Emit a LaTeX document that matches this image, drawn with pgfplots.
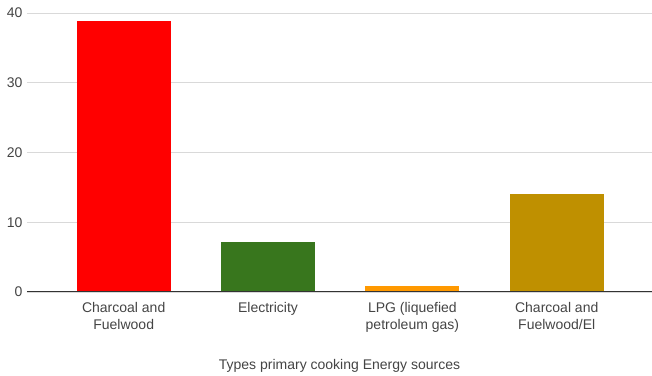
\documentclass[border=0pt]{standalone}
\usepackage{pgfplots}
\pgfplotsset{compat=1.18}
\usepackage{fontspec}
\setmainfont{Liberation Sans}
\definecolor{txt}{HTML}{444444}
\definecolor{gridc}{HTML}{D9D9D9}
\definecolor{base}{HTML}{333333}
\definecolor{cRed}{HTML}{FF0000}
\definecolor{cGreen}{HTML}{38761D}
\definecolor{cOrange}{HTML}{FF9900}
\definecolor{cGold}{HTML}{BF9000}
\begin{document}
\begin{tikzpicture}[font=\fontsize{14pt}{16.5pt}\selectfont]
\begin{axis}[
  scale only axis,
  width=625pt, height=279pt,
  xmin=-0.67, xmax=3.66,
  ymin=0, ymax=40,
  ytick={0,10,20,30,40},
  xtick={0,1,2,3},
  xticklabels={Charcoal and\\Fuelwood, Electricity, LPG (liquefied\\petroleum gas), Charcoal and\\Fuelwood/El},
  xticklabel style={align=center, text=txt, yshift=-7pt},
  yticklabel style={text=txt, xshift=-1pt},
  /pgf/number format/assume math mode=true,
  axis line style={draw=none},
  major tick length=0pt,
  xmajorgrids=false,
  ymajorgrids=true,
  grid style={draw=gridc, line width=0.8pt},
  bar width=94pt,
  xlabel={Types primary cooking Energy sources},
  xlabel style={text=txt, yshift=-20pt},
  clip=false,
]
\addplot[ybar, fill=cRed, draw=none] coordinates {(0,38.8)};
\addplot[ybar, fill=cGreen, draw=none] coordinates {(1,7.2)};
\addplot[ybar, fill=cOrange, draw=none] coordinates {(2,0.9)};
\addplot[ybar, fill=cGold, draw=none] coordinates {(3,14)};
\draw[base, line width=1pt] (rel axis cs:0,0) -- (rel axis cs:1,0);
\coordinate (sw) at (rel axis cs:0,0);
\coordinate (ne) at (rel axis cs:1,1);
\end{axis}
\pgfresetboundingbox
\path ([shift={(-27pt,-84pt)}]sw) rectangle ([shift={(0pt,13pt)}]ne);
\end{tikzpicture}
\end{document}
